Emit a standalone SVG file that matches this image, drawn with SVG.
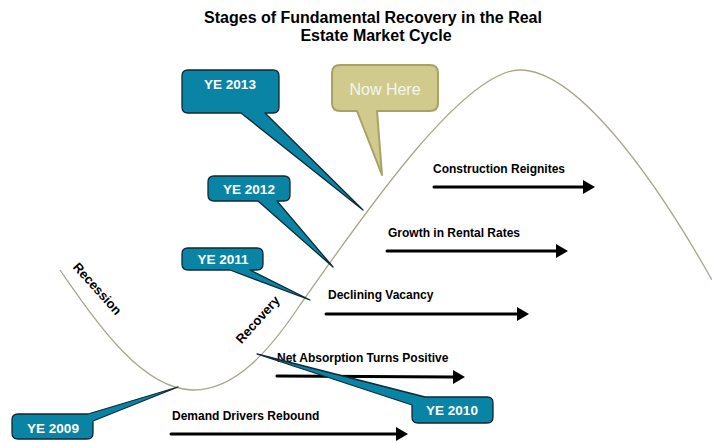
<svg xmlns="http://www.w3.org/2000/svg" width="712" height="442" viewBox="0 0 712 442">
<style>
.t{font-family:"Liberation Sans",Arial,sans-serif;font-weight:bold;fill:#000}
.title{font-size:16px;text-anchor:middle}
.lbl{font-size:12px}
.phase{font-size:13px;text-anchor:middle}
.co{fill:#0a84a5;stroke:#0d2a35;stroke-width:1.3;stroke-linejoin:round}
.cot{font-family:"Liberation Sans",Arial,sans-serif;font-weight:bold;font-size:13.5px;fill:#fff;text-anchor:middle}
.arr{stroke:#000;stroke-width:3;fill:none;stroke-linecap:round;marker-end:url(#ah)}
</style>
<defs>
<marker id="ah" markerUnits="userSpaceOnUse" markerWidth="14" markerHeight="14" refX="1" refY="7" orient="auto">
<path d="M0,0 L12,7 L0,14 Z" fill="#000"/>
</marker>
</defs>
<rect width="712" height="442" fill="#fff"/>
<g id="title">
<text class="t title" x="373" y="23">Stages of Fundamental Recovery in the Real</text>
<text class="t title" x="376" y="41">Estate Market Cycle</text>
</g>
<g id="cycle">
<path d="M60,270 C95,320 140,388 192,390 C235,391 270,350 300,305 C350,235 460,70 520,70 C575,70 650,170 712,280" fill="none" stroke="#a9a68a" stroke-width="1.3"/>
</g>
<g id="recession"><text class="t phase" transform="translate(97,289) rotate(48)" y="4">Recession</text></g>
<g id="recovery"><text class="t phase" transform="translate(258,320) rotate(-48)" y="4">Recovery</text></g>
<g id="connectors">
<line class="arr" x1="434" y1="187" x2="584" y2="187"/>
<line class="arr" x1="387" y1="251" x2="557" y2="251"/>
<line class="arr" x1="326" y1="314" x2="518" y2="314"/>
<line class="arr" x1="277" y1="376" x2="454" y2="377"/>
<line class="arr" x1="171" y1="434" x2="397" y2="434"/>
</g>
<g id="construction"><text class="t lbl" x="433" y="173">Construction Reignites</text></g>
<g id="growth"><text class="t lbl" x="388" y="237">Growth in Rental Rates</text></g>
<g id="vacancy"><text class="t lbl" x="328" y="299">Declining Vacancy</text></g>
<g id="absorption"><text class="t lbl" x="277" y="362">Net Absorption Turns Positive</text></g>
<g id="demand"><text class="t lbl" x="172" y="420">Demand Drivers Rebound</text></g>
<g id="ye2013">
<path class="co" d="M188,70 H273 Q279,70 279,76 V107 Q279,113 273,113 H265 L363,210 L241,113 H188 Q182,113 182,107 V76 Q182,70 188,70 Z"/>
<text class="cot" x="230" y="89">YE 2013</text>
</g>
<g id="ye2012">
<path class="co" d="M214,176 H284 Q290,176 290,182 V195 Q290,201 284,201 H277 L333,267 L258,201 H214 Q208,201 208,195 V182 Q208,176 214,176 Z"/>
<text class="cot" x="249" y="194">YE 2012</text>
</g>
<g id="ye2011">
<path class="co" d="M188,248 H257 Q263,248 263,254 V264 Q263,270 257,270 H250 L310,300 L230,270 H188 Q182,270 182,264 V254 Q182,248 188,248 Z"/>
<text class="cot" x="223" y="264">YE 2011</text>
</g>
<g id="ye2009">
<path class="co" d="M18,414 H88 L178,387 L93,421 V433 Q93,439 87,439 H18 Q12,439 12,433 V420 Q12,414 18,414 Z"/>
<text class="cot" x="53" y="433">YE 2009</text>
</g>
<g id="ye2010">
<path class="co" d="M257,354 L425,397 H487 Q493,397 493,403 V417 Q493,423 487,423 H418 Q412,423 412,417 V405 Z"/>
<text class="cot" x="452" y="415">YE 2010</text>
</g>
<g id="nowhere">
<path d="M340,65 H430 Q438,65 438,73 V103 Q438,111 430,111 H377 L382,175 L357,111 H340 Q332,111 332,103 V73 Q332,65 340,65 Z" fill="#d0cb8d" stroke="#a8a264" stroke-width="2" stroke-linejoin="round"/>
<text x="385" y="95" font-family="'Liberation Sans',Arial,sans-serif" font-size="16" fill="#f6f5ec" text-anchor="middle">Now Here</text>
</g>
</svg>
